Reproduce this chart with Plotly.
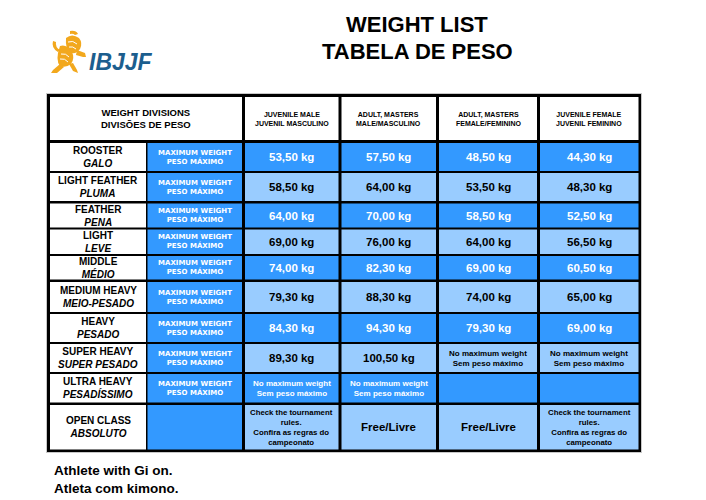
import plotly.graph_objects as go

# ---- table content ----
divisions_en = ["ROOSTER", "LIGHT FEATHER", "FEATHER", "LIGHT", "MIDDLE",
                "MEDIUM HEAVY", "HEAVY", "SUPER HEAVY", "ULTRA HEAVY", "OPEN CLASS"]
divisions_pt = ["GALO", "PLUMA", "PENA", "LEVE", "MÉDIO",
                "MEIO-PESADO", "PESADO", "SUPER PESADO", "PESADÍSSIMO", "ABSOLUTO"]

categories = ["JUVENILE MALE<br>JUVENIL MASCULINO",
              "ADULT, MASTERS<br>MALE/MASCULINO",
              "ADULT, MASTERS<br>FEMALE/FEMININO",
              "JUVENILE FEMALE<br>JUVENIL FEMININO"]

# max weight in kg, None = no maximum weight, "" = empty cell (rooster .. ultra heavy)
juvenile_male = [53.5, 58.5, 64.0, 69.0, 74.0, 79.3, 84.3, 89.3, None]
adult_male = [57.5, 64.0, 70.0, 76.0, 82.3, 88.3, 94.3, 100.5, None]
adult_female = [48.5, 53.5, 58.5, 64.0, 69.0, 74.0, 79.3, None, ""]
juvenile_female = [44.3, 48.3, 52.5, 56.5, 60.5, 65.0, 69.0, None, ""]

# open class: "check" = check the tournament rules, "free" = free/livre
open_class = ["check", "free", "free", "check"]

header_left = "WEIGHT DIVISIONS<br>DIVISÕES DE PESO"
max_label = "MAXIMUM WEIGHT<br>PESO MÁXIMO"
no_max_label = "No maximum weight<br>Sem peso máximo"
check_label = "Check the tournament<br>rules.<br>Confira as regras do<br>campeonato"
free_label = "Free/Livre"

title_lines = ["WEIGHT LIST", "TABELA DE PESO"]
footer_lines = ["Athlete with Gi on.", "Atleta com kimono."]

# ---- layout (page pixel grid; the html body adds an 8px margin) ----
DARK = "#3399FF"
LIGHT = "#99CCFF"
col_edges = [(50, 146), (147.5, 242), (245, 338.5), (341.5, 436), (439, 537), (540, 638.5)]
row_edges = [(97, 140), (143, 171), (173, 201), (203.5, 227.5), (229.5, 254),
             (256, 279.5), (282, 312), (314, 342), (344, 372), (374, 402.5), (405, 449.5)]

ARIAL = "Liberation Sans, Arial, sans-serif"
NARROW = "Liberation Sans Narrow, Arial Narrow, Liberation Sans, sans-serif"
WIDE = "DejaVu Sans, Verdana, sans-serif"

fig = go.Figure()
shapes = []
annotations = []


def cell(c0, c1, r, fill, text=None, size=11, color="black", family=ARIAL):
    x0 = col_edges[c0][0]
    x1 = col_edges[c1][1]
    y0, y1 = row_edges[r]
    shapes.append(dict(type="rect", xref="x", yref="y", x0=x0, x1=x1, y0=y0, y1=y1,
                       fillcolor=fill, line=dict(width=0), layer="above"))
    if text:
        annotations.append(dict(x=(x0 + x1) / 2, y=(y0 + y1) / 2, xref="x", yref="y",
                                text=text, showarrow=False, xanchor="center", yanchor="middle",
                                align="center", font=dict(family=family, size=size, color=color)))


# table frame
shapes.append(dict(type="rect", xref="x", yref="y", x0=46, x1=642, y0=93, y1=453,
                   fillcolor="#c8c8c8", line=dict(width=0), layer="above"))
shapes.append(dict(type="rect", xref="x", yref="y", x0=47, x1=641, y0=94, y1=452,
                   fillcolor="black", line=dict(width=0), layer="above"))

# header row
cell(0, 1, 0, "white", "<b>" + header_left + "</b>", size=9.5)
for j, cat in enumerate(categories):
    cell(j + 2, j + 2, 0, "white", "<b>" + cat + "</b>", size=7, family=NARROW)

series = [juvenile_male, adult_male, adult_female, juvenile_female]


def fmt(v):
    return f"{v:.2f}".replace(".", ",") + " kg"


for i in range(len(divisions_en)):
    r = i + 1
    fill = DARK if i % 2 == 0 else LIGHT
    tcol = "white" if fill == DARK else "black"
    cell(0, 0, r, "white",
         "<b>" + divisions_en[i] + "</b><br><b><i>" + divisions_pt[i] + "</i></b>", size=10)
    if i < len(juvenile_male):
        cell(1, 1, r, DARK, "<b>" + max_label + "</b>", size=7, color="white", family=WIDE)
        for j, s in enumerate(series):
            v = s[i]
            if v == "":
                cell(j + 2, j + 2, r, fill)
            elif v is None:
                cell(j + 2, j + 2, r, fill, "<b>" + no_max_label + "</b>", size=8, color=tcol)
            else:
                cell(j + 2, j + 2, r, fill, "<b>" + fmt(v) + "</b>", size=11.5, color=tcol)
    else:
        cell(1, 1, r, DARK)
        for j, kind in enumerate(open_class):
            if kind == "check":
                cell(j + 2, j + 2, r, fill, "<b>" + check_label + "</b>", size=7.8, color=tcol)
            else:
                cell(j + 2, j + 2, r, fill, "<b>" + free_label + "</b>", size=11.5, color=tcol)

# title
for k, line in enumerate(title_lines):
    annotations.append(dict(x=417, y=24.5 + k * 27, xref="x", yref="y", text="<b>" + line + "</b>",
                            showarrow=False, xanchor="center", yanchor="middle",
                            font=dict(family=ARIAL, size=22, color="black")))

# footer
for k, line in enumerate(footer_lines):
    annotations.append(dict(x=52, y=470 + k * 18.5, xref="x", yref="y", text="<b>" + line + "</b>",
                            showarrow=False, xanchor="left", yanchor="middle",
                            font=dict(family=ARIAL, size=13.5, color="black")))

# logo: rough line-art lion + IBJJF wordmark
GOLD = "#F2A81D"
lion_fill = [
    "M 66 38 Q 72 33 79 38 Q 83 43 80 49 Q 77 54 71 53 Q 65 50 66 38 Z",          # head / mane
    "M 70 31 Q 76 30 78 34 L 75 35 Q 73 33 70 34 Z",                                # crest
    "M 60 46 Q 67 44 72 52 Q 75 58 71 64 Q 66 68 60 66 Q 55 60 60 46 Z",           # body
    "M 77 50 L 85 53 L 86 57 L 83 57 L 76 55 Z",                                    # front paw
    "M 60 64 L 53 70 L 51 73 L 57 73 L 64 67 Z",                                    # hind leg
    "M 69 64 L 73 71 L 78 73 L 77 70 L 73 63 Z",                                    # hind leg 2
    "M 58 52 Q 51 48 53 41 L 56 42 Q 55 47 60 50 Z",                                # tail
]
for p in lion_fill:
    shapes.append(dict(type="path", xref="x", yref="y", path=p, fillcolor=GOLD,
                       line=dict(width=0), layer="above"))
lion_lines = [
    "M 68 42 Q 73 40 77 44",
    "M 69 47 Q 73 46 76 49",
    "M 61 54 Q 66 53 69 57",
    "M 60 59 Q 65 58 68 62",
]
for p in lion_lines:
    shapes.append(dict(type="path", xref="x", yref="y", path=p,
                       line=dict(color="white", width=1), layer="above"))
annotations.append(dict(x=87, y=62, xref="x", yref="y", text="<b><i>IBJJF</i></b>",
                        showarrow=False, xanchor="left", yanchor="middle",
                        font=dict(family=ARIAL, size=23, color="#1C5E8E")))

fig.update_layout(
    width=690, height=492,
    margin=dict(l=0, r=0, t=0, b=0),
    paper_bgcolor="white", plot_bgcolor="white",
    xaxis=dict(range=[8, 698], visible=False, fixedrange=True),
    yaxis=dict(range=[500, 8], visible=False, fixedrange=True),
    shapes=shapes, annotations=annotations,
    showlegend=False,
)

fig.write_html("out.html")
